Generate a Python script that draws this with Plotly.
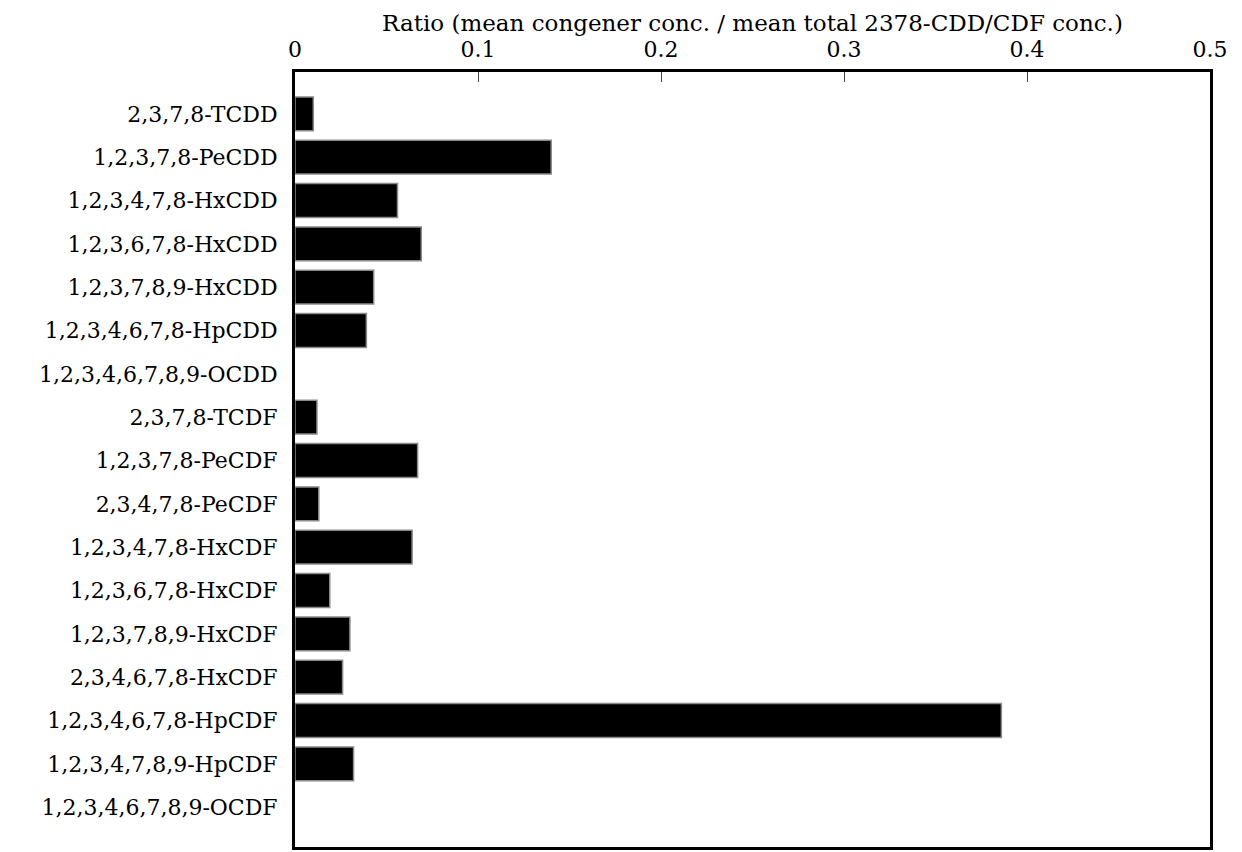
import plotly.graph_objects as go

congeners = [
    "2,3,7,8-TCDD", "1,2,3,7,8-PeCDD", "1,2,3,4,7,8-HxCDD", "1,2,3,6,7,8-HxCDD",
    "1,2,3,7,8,9-HxCDD", "1,2,3,4,6,7,8-HpCDD", "1,2,3,4,6,7,8,9-OCDD",
    "2,3,7,8-TCDF", "1,2,3,7,8-PeCDF", "2,3,4,7,8-PeCDF", "1,2,3,4,7,8-HxCDF",
    "1,2,3,6,7,8-HxCDF", "1,2,3,7,8,9-HxCDF", "2,3,4,6,7,8-HxCDF",
    "1,2,3,4,6,7,8-HpCDF", "1,2,3,4,7,8,9-HpCDF", "1,2,3,4,6,7,8,9-OCDF",
]
ratios = [
    0.010, 0.140, 0.056, 0.069, 0.043, 0.039, 0.0,
    0.012, 0.067, 0.013, 0.064, 0.019, 0.030, 0.026,
    0.386, 0.032, 0.0,
]
x_ticks = [0, 0.1, 0.2, 0.3, 0.4, 0.5]
x_tick_labels = ["0", "0.1", "0.2", "0.3", "0.4", "0.5"]
x_title = "Ratio (mean congener conc. / mean total 2378-CDD/CDF conc.)"

font_family = "DejaVu Serif"

# no outline for empty (zero) bars
outline_widths = [1.5 if v > 0 else 0 for v in ratios]

fig = go.Figure(go.Bar(
    x=ratios,
    y=congeners,
    orientation="h",
    marker=dict(color="black", line=dict(color="#8a8a8a", width=outline_widths)),
))

fig.update_layout(
    width=1242, height=852,
    paper_bgcolor="white", plot_bgcolor="white",
    margin=dict(l=287, r=40, t=64, b=10),
    bargap=0.22,
    showlegend=False,
    font=dict(family=font_family, size=22, color="black"),
)

fig.update_xaxes(
    side="top",
    range=[0, 0.5],
    tickvals=x_ticks,
    ticktext=x_tick_labels,
    ticks="inside", ticklen=10, tickwidth=1, tickcolor="#444",
    showgrid=False, zeroline=False,
    showline=True, linecolor="black", linewidth=3, mirror=True,
    title=dict(text=x_title, font=dict(family=font_family, size=23), standoff=0),
    tickfont=dict(family=font_family, size=22),
    ticklabelstandoff=3,
)

fig.update_yaxes(
    type="category",
    categoryorder="array", categoryarray=congeners,
    range=[16.92, -0.966],
    showgrid=False, zeroline=False,
    showline=True, linecolor="black", linewidth=3, mirror=True,
    ticks="", ticklabelstandoff=10,
    tickfont=dict(family=font_family, size=22),
)

fig.write_html("out.html")
